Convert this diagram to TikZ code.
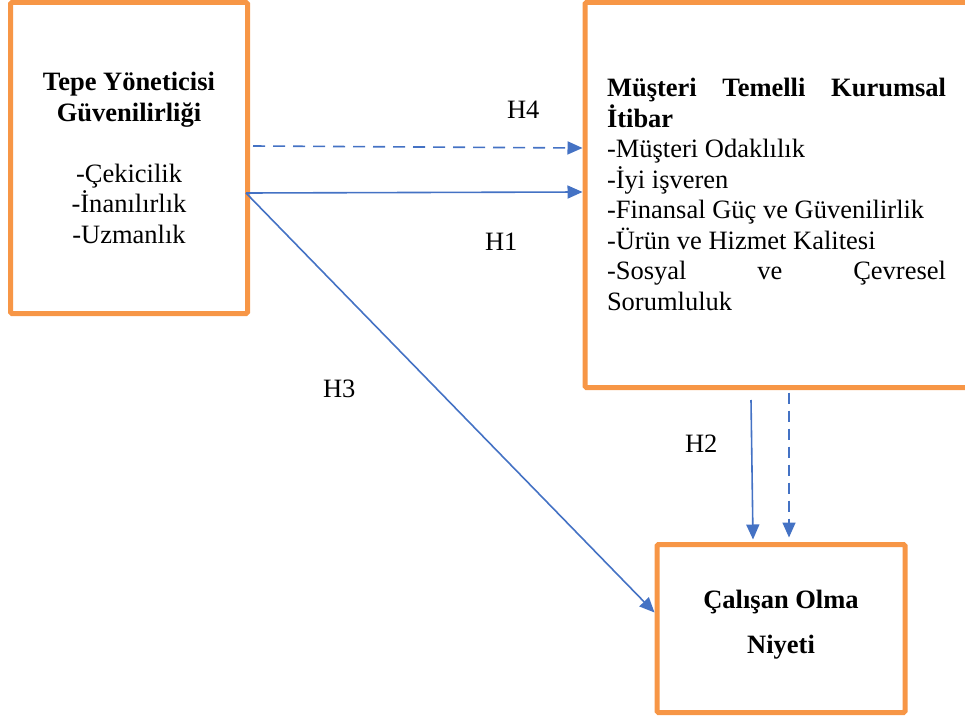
\documentclass[tikz,border=0pt]{standalone}
\usepackage{fontspec}
\setmainfont{Liberation Serif}
\usetikzlibrary{arrows.meta,calc}

\definecolor{boxorange}{HTML}{F79646}
\definecolor{linkblue}{HTML}{4472C4}

\tikzset{
  x=1pt, y=-1pt,
  every node/.style={inner sep=0pt, outer sep=0pt},
  framebox/.style={draw=boxorange, line width=5pt, rounded corners=1.5pt, fill=white},
  link/.style={draw=linkblue, line width=1.6pt, -{Triangle[length=15pt,width=13pt]}},
  dashlink/.style={link, dash pattern=on 12pt off 8pt},
  bodytext/.style={font=\fontsize{26.5}{30.5}\selectfont},
  hyplabel/.style={anchor=base west, font=\fontsize{26.5}{30.5}\selectfont},
}

\begin{document}
\begin{tikzpicture}
  \useasboundingbox (0,0) rectangle (965,719);
  \clip (0,0) rectangle (965,719);

  % boxes
  \node[framebox, minimum width=237pt, minimum height=311pt, anchor=north west] (L) at (10.5,2.5) {};
  \node[framebox, minimum width=400pt, minimum height=385pt, anchor=north west] (R) at (585,2.5) {};
  \node[framebox, minimum width=248pt, minimum height=168pt, anchor=north west] (B) at (657,544.5) {};

  % box contents
  \node[bodytext, anchor=base] (Ltext) at (129,91) {\parbox[t]{230pt}{\centering
      \bfseries Tepe Yöneticisi\\Güvenilirliği\par
      \mdseries\mbox{}\\-Çekicilik\\-İnanılırlık\\-Uzmanlık}};

  \node[bodytext, anchor=base west] (Rtext) at (607,97) {\parbox[t]{339pt}{\parindent=0pt
      \textbf{Müşteri Temelli Kurumsal\linebreak İtibar}\par
      -Müşteri Odaklılık\par
      -İyi işveren\par
      -Finansal Güç ve Güvenilirlik\par
      -Ürün ve Hizmet Kalitesi\par
      -Sosyal ve Çevresel\linebreak Sorumluluk}};

  \node[font=\fontsize{26.5}{45}\selectfont, anchor=base] (Btext) at (781,608) {\parbox[t]{240pt}{\centering
      \bfseries Çalışan Olma\\Niyeti}};

  % connector end points on the box borders
  \coordinate (h4s) at ($(L.north east)+(5.5,143.5)$);
  \coordinate (h4e) at ($(R.north west)+(-2.5,145.5)$);
  \coordinate (h1s) at ($(L.north east)+(-1.5,190.5)$);
  \coordinate (h1e) at ($(R.north west)+(-2.5,189.5)$);
  \coordinate (h3e) at ($(B.north west)+(-2.5,68)$);
  \coordinate (h2s) at ($(R.south west)+(166,12.5)$);
  \coordinate (h2e) at ($(B.north west)+(96,-5)$);
  \coordinate (h2ds) at ($(R.south west)+(204,5)$);
  \coordinate (h2de) at ($(B.north west)+(132,-7)$);

  % hypotheses
  \draw[dashlink] (h4s) -- (h4e);
  \draw[link] (h1s) -- (h1e);
  \draw[link] (h1s) -- (h3e);
  \draw[link] (h2s) -- (h2e);
  \draw[dashlink, dash pattern=on 11pt off 7pt] (h2ds) -- (h2de);

  % labels
  \node[hyplabel] (H4) at (507,119) {H4};
  \node[hyplabel] (H1) at (485,251) {H1};
  \node[hyplabel] (H3) at (323,397) {H3};
  \node[hyplabel] (H2) at (685,452) {H2};
\end{tikzpicture}
\end{document}
